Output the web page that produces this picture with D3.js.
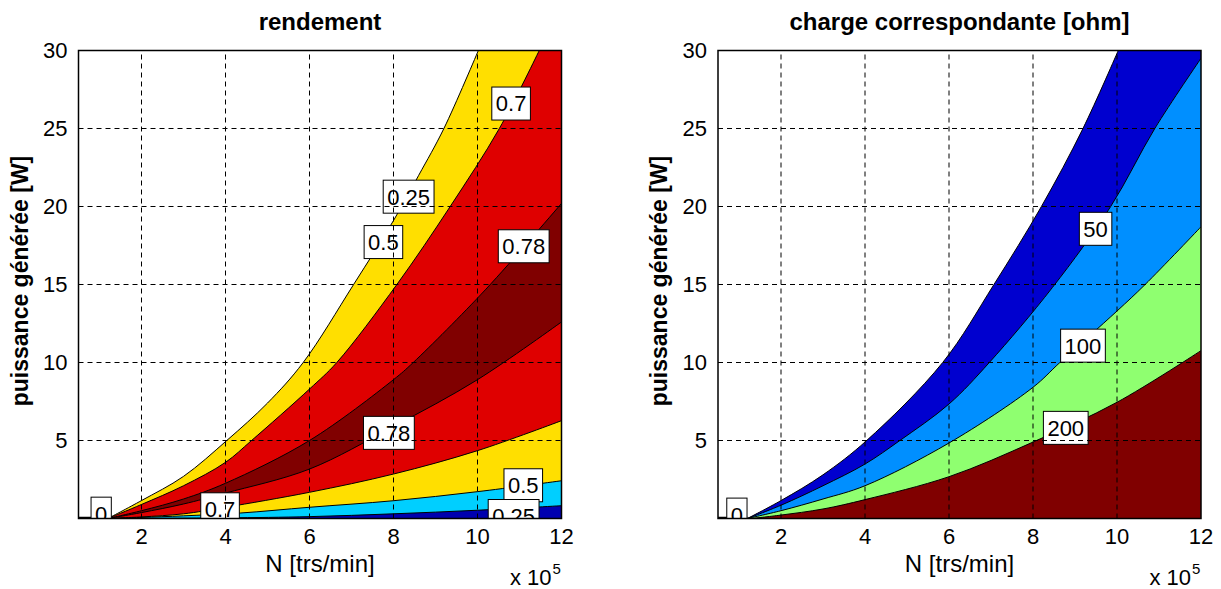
<!DOCTYPE html>
<html>
<head>
<meta charset="utf-8">
<script src="https://cdn.jsdelivr.net/npm/d3@7/dist/d3.min.js"></script>
<style>
  body { margin: 0; background: #fff; }
  svg text { font-family: "Liberation Sans", Arial, sans-serif; fill: #000; }
</style>
</head>
<body>
<div id="chart"></div>
<script>
// axis ticks
const nTicks = [2, 4, 6, 8, 10, 12];
const pTicks = [5, 10, 15, 20, 25, 30];

// contour boundaries, as [N (x1e5 trs/min), P (W)]
// left plot: rendement, from the white side down to the lower right
const rendEdge = [[1.2, 0], [2, 1.15], [3, 2.7], [4.03, 5], [5, 7.4], [5.85, 10], [7.05, 15], [8.0, 19.1], [8.6, 22], [9.2, 25], [10.02, 30]];
const rend07a = [[1.2, 0], [2, 0.9], [3, 2.1], [4, 3.6], [4.62, 5], [6, 8.3], [6.65, 10], [8.08, 15], [9.35, 20], [10.52, 25], [11.47, 30]];
const rend078a = [[1.2, 0], [2, 0.5], [3, 1.25], [4, 2.26], [6, 5.0], [8, 8.9], [8.47, 10], [10.2, 14.7], [12, 20.2]];
const rend078b = [[1.2, 0], [2, 0.38], [3, 0.93], [4, 1.63], [6, 3.17], [8, 5.9], [10, 8.9], [12, 12.6]];
const rend07b = [[1.2, 0], [2, 0.1], [3, 0.3], [4, 0.72], [6, 1.68], [8, 2.85], [10, 4.35], [12, 6.27]];
const rend05b = [[1.2, 0], [2, 0.07], [3, 0.17], [4.35, 0.35], [6, 0.72], [8, 1.14], [10, 1.72], [12, 2.42]];
const rend025b = [[1.2, 0], [4, 0.04], [6, 0.12], [8, 0.3], [10, 0.53], [12, 0.82]];
const rendColors = ["#ffdf00", "#df0000", "#800000", "#df0000", "#ffdf00", "#00cfff", "#0000af"];

const rendLabelText = ["0", "0.25", "0.5", "0.7", "0.78", "0.78", "0.7", "0.5", "0.25"];
const rendLabelN = [1.04, 8.36, 7.76, 10.8, 11.1, 7.89, 3.87, 11.09, 10.86];
const rendLabelP = [0.31, 20.63, 17.72, 26.6, 17.45, 5.49, 0.59, 2.13, 0.16];

// right plot: charge correspondante
const chgEdge = [[1.2, 0], [2, 1.15], [3, 2.8], [4.04, 5], [5.85, 10], [7.07, 15], [8.2, 20], [9.19, 25], [10.03, 30]];
const chg50 = [[1.2, 0], [2, 0.85], [3, 2.1], [4, 3.49], [4.83, 5], [6, 7.34], [6.96, 10], [8.46, 14.8], [9.85, 20], [10.9, 25], [12, 29.5]];
const chg100 = [[1.2, 0], [2, 0.5], [3, 1.25], [4, 2.1], [6, 4.84], [8, 8.41], [8.64, 10], [10, 13.3], [10.67, 15], [12, 18.7]];
const chg200 = [[1.3, 0], [2, 0.22], [3, 0.61], [4, 1.21], [6, 2.68], [8, 4.9], [10, 7.45], [12, 10.76]];
const chgColors = ["#0000cf", "#008fff", "#8fff70", "#800000"];

const chgLabelText = ["0", "50", "100", "200"];
const chgLabelN = [0.95, 9.49, 9.19, 8.78];
const chgLabelP = [0.25, 18.57, 11.08, 5.81];

const svg = d3.select("#chart")
  .append("svg")
  .attr("width", 1221)
  .attr("height", 589);

function drawPanel(p) {
  const x = d3.scaleLinear().domain([0.5, 12]).range([p.left, p.right]);
  const y = d3.scaleLinear().domain([0, 30]).range([518.5, 50.5]);

  svg.append("clipPath").attr("id", "clip" + p.id)
    .append("rect")
    .attr("x", x(0.5)).attr("y", y(30))
    .attr("width", x(12) - x(0.5)).attr("height", y(0) - y(30));

  const plot = svg.append("g").attr("clip-path", `url(#clip${p.id})`);
  const line = d3.line()
    .x(d => x(d[0]))
    .y(d => y(d[1]))
    .curve(d3.curveCatmullRom.alpha(0.5));

  // filled bands: each boundary fills everything to its lower right
  p.bounds.forEach((b, i) => {
    const last = b[b.length - 1];
    plot.append("path")
      .attr("d", line(b) + `L${x(13)},${y(last[1])}L${x(13)},${y(-1)}L${x(b[0][0])},${y(-1)}Z`)
      .attr("fill", p.colors[i]);
  });

  // contour lines
  p.bounds.forEach(b => {
    plot.append("path")
      .attr("d", line(b))
      .attr("fill", "none")
      .attr("stroke", "#000")
      .attr("stroke-width", 1);
  });
  // short piece of the 0 contour running along the bottom edge
  plot.append("line")
    .attr("x1", x(0.5)).attr("x2", x(p.bounds[0][0][0]))
    .attr("y1", y(0) - 1).attr("y2", y(0) - 1)
    .attr("stroke", "#000").attr("stroke-width", 1.5);

  // contour labels
  p.labels.forEach((t, i) => {
    const g = plot.append("g")
      .attr("transform", `translate(${x(p.labelN[i])},${y(p.labelP[i])})`);
    const rect = g.append("rect");
    const txt = g.append("text")
      .attr("text-anchor", "middle")
      .attr("dy", "0.36em")
      .style("font-size", "22px")
      .text(t);
    const w = txt.node().getComputedTextLength() + 8;
    rect.attr("x", -w / 2).attr("y", -16.5)
      .attr("width", w).attr("height", 33)
      .attr("fill", "#fff").attr("stroke", "#000").attr("stroke-width", 1);
  });

  // dashed grid on top
  const grid = svg.append("g")
    .attr("stroke", "#000")
    .attr("stroke-width", 1)
    .attr("stroke-dasharray", "5,4");
  grid.selectAll(".gx")
    .data(nTicks.filter(d => d < 12))
    .enter().append("line")
    .attr("x1", d => x(d)).attr("x2", d => x(d))
    .attr("y1", y(0)).attr("y2", y(30));
  grid.selectAll(".gy")
    .data(pTicks.filter(d => d < 30))
    .enter().append("line")
    .attr("x1", x(0.5)).attr("x2", x(12))
    .attr("y1", d => y(d)).attr("y2", d => y(d));

  // axes box
  svg.append("rect")
    .attr("x", x(0.5)).attr("y", y(30))
    .attr("width", x(12) - x(0.5)).attr("height", y(0) - y(30))
    .attr("fill", "none").attr("stroke", "#000").attr("stroke-width", 1.5);

  // tick labels
  svg.selectAll(null)
    .data(nTicks)
    .enter().append("text")
    .attr("x", d => x(d))
    .attr("y", 544)
    .attr("text-anchor", "middle")
    .style("font-size", "22px")
    .text(d => d);
  svg.selectAll(null)
    .data(pTicks)
    .enter().append("text")
    .attr("x", x(0.5) - 11)
    .attr("y", d => y(d))
    .attr("dy", "0.36em")
    .attr("text-anchor", "end")
    .style("font-size", "22px")
    .text(d => d);

  // titles and axis labels
  const cx = (x(0.5) + x(12)) / 2;
  svg.append("text")
    .attr("x", cx).attr("y", 30)
    .attr("text-anchor", "middle")
    .style("font-size", "24px").style("font-weight", "bold")
    .text(p.title);
  svg.append("text")
    .attr("x", cx).attr("y", 572)
    .attr("text-anchor", "middle")
    .style("font-size", "24px")
    .text("N [trs/min]");
  svg.append("text")
    .attr("transform", `translate(${x(0.5) - 51},281) rotate(-90)`)
    .attr("text-anchor", "middle")
    .style("font-size", "23px").style("font-weight", "bold")
    .text("puissance générée [W]");

  // x 10^5 multiplier
  svg.append("text")
    .attr("x", x(12) - 10).attr("y", 585)
    .attr("text-anchor", "end")
    .style("font-size", "22px")
    .text("x 10");
  svg.append("text")
    .attr("x", x(12) - 9).attr("y", 574)
    .style("font-size", "15px")
    .text("5");
}

drawPanel({
  id: "rend", left: 78.5, right: 561.5, title: "rendement",
  bounds: [rendEdge, rend07a, rend078a, rend078b, rend07b, rend05b, rend025b],
  colors: rendColors,
  labels: rendLabelText, labelN: rendLabelN, labelP: rendLabelP
});

drawPanel({
  id: "chg", left: 718, right: 1201, title: "charge correspondante [ohm]",
  bounds: [chgEdge, chg50, chg100, chg200],
  colors: chgColors,
  labels: chgLabelText, labelN: chgLabelN, labelP: chgLabelP
});
</script>
</body>
</html>
